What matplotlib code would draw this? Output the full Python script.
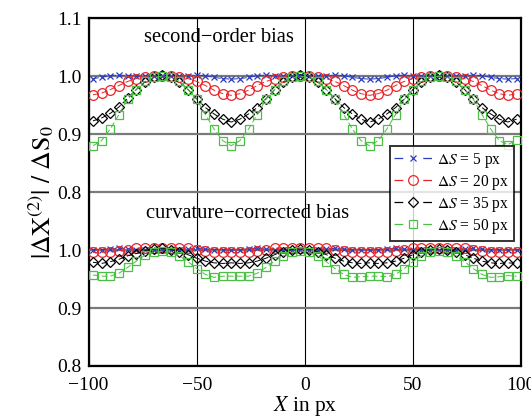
import matplotlib
matplotlib.use("Agg")
import matplotlib.pyplot as plt
from matplotlib.lines import Line2D

# ---------------- data ----------------
x_px = [-98, -94, -90, -86, -82, -78, -74, -70, -66, -62, -58, -54, -50, -46, -42, -38,
        -34, -30, -26, -22, -18, -14, -10, -6, -2, 2, 6, 10, 14, 18, 22, 26,
        30, 34, 38, 42, 46, 50, 54, 58, 62, 66, 70, 74, 78, 82, 86, 90,
        94, 98]

# second-order bias (upper block)
so_5 = [0.996, 0.998, 1.001, 1.002, 1.001, 1.000, 1.000, 1.001, 1.000, 1.001, 1.000, 1.001, 1.002, 1.001, 0.998, 0.996,
        0.995, 0.996, 0.998, 1.001, 1.002, 1.001, 1.000, 1.000, 1.000, 1.000, 1.000, 1.001, 1.002, 1.001, 0.998, 0.996,
        0.995, 0.996, 0.998, 1.001, 1.002, 1.001, 1.000, 1.000, 1.000, 1.000, 1.000, 1.001, 1.002, 1.001, 0.998, 0.996,
        0.995, 0.996]
so_20 = [0.968, 0.971, 0.977, 0.984, 0.991, 0.996, 0.999, 1.001, 1.001, 1.001, 0.999, 0.996, 0.991, 0.984, 0.976, 0.970,
         0.967, 0.970, 0.976, 0.984, 0.991, 0.996, 0.999, 1.001, 1.001, 1.001, 0.999, 0.996, 0.991, 0.984, 0.976, 0.970,
         0.967, 0.970, 0.976, 0.984, 0.991, 0.996, 0.999, 1.001, 1.001, 1.001, 0.999, 0.996, 0.991, 0.984, 0.976, 0.970,
         0.967, 0.970]
so_35 = [0.923, 0.928, 0.936, 0.947, 0.962, 0.977, 0.990, 0.998, 1.003, 0.998, 0.990, 0.977, 0.961, 0.946, 0.935, 0.926,
         0.921, 0.926, 0.935, 0.946, 0.961, 0.977, 0.990, 0.998, 1.003, 0.998, 0.990, 0.977, 0.961, 0.946, 0.935, 0.926,
         0.921, 0.926, 0.935, 0.946, 0.961, 0.977, 0.990, 0.998, 1.003, 0.998, 0.990, 0.977, 0.961, 0.946, 0.935, 0.926,
         0.921, 0.926]
so_50 = [0.880, 0.889, 0.909, 0.934, 0.960, 0.977, 0.991, 0.998, 1.000, 0.998, 0.991, 0.977, 0.960, 0.934, 0.909, 0.889,
         0.880, 0.889, 0.909, 0.934, 0.960, 0.977, 0.991, 0.998, 1.000, 0.998, 0.991, 0.977, 0.960, 0.934, 0.909, 0.889,
         0.880, 0.889, 0.909, 0.934, 0.960, 0.977, 0.991, 0.998, 1.000, 0.998, 0.991, 0.977, 0.960, 0.934, 0.909, 0.889,
         0.882, 0.890]

# curvature-corrected bias (lower block)
cc_5 = [1.000, 1.001, 1.002, 1.003, 1.002, 1.001, 1.000, 1.000, 1.000, 1.000, 1.001, 1.002, 1.003, 1.002, 1.001, 1.001,
        1.000, 1.001, 1.002, 1.003, 1.002, 1.001, 1.000, 1.000, 1.000, 1.000, 1.001, 1.002, 1.003, 1.002, 1.001, 1.001,
        1.000, 1.001, 1.002, 1.003, 1.002, 1.001, 1.000, 1.000, 1.000, 1.000, 1.001, 1.002, 1.003, 1.002, 1.001, 1.001,
        1.000, 1.001]
cc_20 = [0.996, 0.996, 0.997, 0.999, 1.001, 1.003, 1.004, 1.004, 1.003, 1.004, 1.004, 1.003, 1.001, 0.999, 0.997, 0.996,
         0.996, 0.996, 0.997, 0.999, 1.001, 1.003, 1.004, 1.004, 1.003, 1.004, 1.004, 1.003, 1.001, 0.999, 0.997, 0.996,
         0.996, 0.996, 0.997, 0.999, 1.001, 1.003, 1.004, 1.004, 1.003, 1.004, 1.004, 1.003, 1.001, 0.999, 0.997, 0.996,
         0.996, 0.996]
cc_35 = [0.979, 0.977, 0.980, 0.984, 0.990, 0.994, 0.999, 1.002, 1.003, 1.001, 0.997, 0.992, 0.986, 0.981, 0.978, 0.977,
         0.978, 0.977, 0.978, 0.981, 0.986, 0.992, 0.997, 1.001, 1.002, 1.001, 0.997, 0.992, 0.986, 0.981, 0.978, 0.977,
         0.978, 0.977, 0.978, 0.981, 0.986, 0.992, 0.997, 1.001, 1.002, 1.001, 0.997, 0.992, 0.986, 0.981, 0.978, 0.977,
         0.978, 0.977]
cc_50 = [0.957, 0.955, 0.955, 0.960, 0.970, 0.981, 0.991, 0.996, 0.998, 0.996, 0.990, 0.980, 0.968, 0.958, 0.953, 0.955,
         0.955, 0.955, 0.955, 0.960, 0.970, 0.981, 0.990, 0.996, 0.998, 0.996, 0.990, 0.980, 0.968, 0.958, 0.953, 0.954,
         0.955, 0.955, 0.954, 0.958, 0.968, 0.980, 0.990, 0.996, 0.998, 0.996, 0.990, 0.980, 0.968, 0.958, 0.953, 0.954,
         0.956, 0.955]

legend_labels = [r'$\Delta S$ = 5 px', r'$\Delta S$ = 20 px', r'$\Delta S$ = 35 px', r'$\Delta S$ = 50 px']
ytick_vals = [0.5, 0.6, 0.7, 0.8, 0.9, 1.0, 1.1]
ytick_labels = ['0.8', '0.9', '1.0', '0.8', '0.9', '1.0', '1.1']
xtick_vals = [-100, -50, 0, 50, 100]
xtick_labels = ['\u2212100', '\u221250', '0', '50', '100']
lower_offset = 0.3  # lower block is shifted down on the shared axis

# ---------------- style ----------------
plt.rcParams['font.family'] = ['Liberation Serif', 'DejaVu Serif']
plt.rcParams['mathtext.fontset'] = 'stix'

fig = plt.figure(figsize=(5.31, 4.19), dpi=100)
ax = fig.add_axes([0.167, 0.1265, 0.814, 0.8298])

colors = ['#2a3cbf', '#e8262a', '#000000', '#4cbf45']
markers = ['x', 'o', 'D', 's']
msizes = [4.5, 7.0, 5.0, 6.0]
upper = [so_5, so_20, so_35, so_50]
lower = [cc_5, cc_20, cc_35, cc_50]

for up, lo, c, m, ms in zip(upper, lower, colors, markers, msizes):
    ax.plot(x_px, up, color=c, lw=0.7, dashes=(6, 3), marker=m, ms=ms,
            mfc='none', mec=c, mew=0.9, zorder=3)
    ax.plot(x_px, [v - lower_offset for v in lo], color=c, lw=0.7, dashes=(6, 3),
            marker=m, ms=ms, mfc='none', mec=c, mew=0.9, zorder=3)

handles = [Line2D([], [], color=c, lw=0.9, dashes=(7, 16), marker=m, ms=ms,
                  mfc='none', mec=c, mew=0.9)
           for c, m, ms in zip(colors, markers, msizes)]

ax.set_xlim(-100, 100)
ax.set_ylim(0.5, 1.1)
ax.set_yticks(ytick_vals)
ax.set_yticklabels(ytick_labels)
ax.set_xticks(xtick_vals)
ax.set_xticklabels(xtick_labels)
ax.tick_params(axis='both', length=0, labelsize=14)
ax.tick_params(axis='x', pad=8)
ax.tick_params(axis='y', pad=5)

ax.set_axisbelow(True)
ax.yaxis.grid(True, color='#7a7a7a', lw=1.6)
ax.xaxis.grid(True, color='#000000', lw=0.8)
for s in ax.spines.values():
    s.set_linewidth(1.6)

ax.text(-39.5, 1.067, 'second\u2212order bias', fontsize=14.8, ha='center', va='center')
ax.text(-26.5, 0.763, 'curvature\u2212corrected bias', fontsize=14.8, ha='center', va='center')

ax.set_xlabel(r'$X$ in px', fontsize=15.5, labelpad=0)
ax.set_ylabel(r'$|\Delta \mathrm{X}^{(2)}|\ /\ \Delta \mathrm{S}_0$', fontsize=18.5, labelpad=1)

leg = ax.legend(handles, legend_labels, loc='upper right', bbox_to_anchor=(0.984, 0.633),
                fontsize=11.2, frameon=True, fancybox=False, edgecolor='black',
                handlelength=2.4, handletextpad=0.35, borderpad=0.3, labelspacing=0.2,
                borderaxespad=0.0)
leg.get_frame().set_linewidth(1.4)

fig.savefig('out.png', dpi=100)
